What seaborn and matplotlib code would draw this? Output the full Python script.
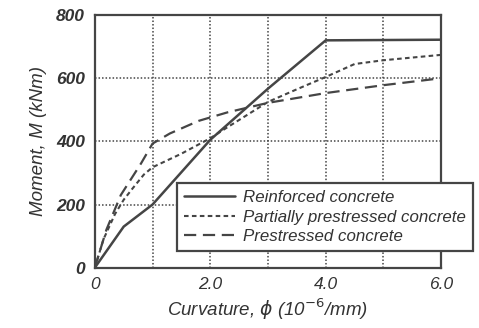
import matplotlib
matplotlib.use("Agg")
import matplotlib.pyplot as plt
import seaborn as sns
import pandas as pd
from matplotlib.lines import Line2D

# Data
curv_rc = [0, 0.5, 1.0, 2.0, 3.0, 4.0, 6.0]
moment_rc = [0, 130, 200, 405, 567, 720, 722]

curv_pp = [0, 0.15, 0.35, 0.5, 0.65, 0.85, 1.0, 1.5, 2.0, 2.3, 3.0, 3.5, 4.0, 4.5, 5.0, 6.0]
moment_pp = [0, 90, 170, 215, 250, 295, 318, 361, 410, 445, 525, 565, 604, 645, 657, 674]

curv_ps = [0, 0.2, 0.45, 0.8, 1.0, 1.3, 1.8, 2.3, 3.0, 4.0, 5.0, 6.0]
moment_ps = [0, 120, 230, 330, 393, 425, 465, 492, 522, 553, 578, 600]

labels = ["Reinforced concrete", "Partially prestressed concrete", "Prestressed concrete"]
x_ticks = [0, 1, 2, 3, 4, 5, 6]
x_ticklabels = ["0", "", "2.0", "", "4.0", "", "6.0"]
y_ticks = [0, 200, 400, 600, 800]
y_ticklabels = ["0", "200", "400", "600", "800"]

sns.set_theme(style="white")
plt.rcParams["font.family"] = ["Liberation Sans", "DejaVu Sans"]

df = pd.concat([
    pd.DataFrame({"curv": curv_rc, "moment": moment_rc, "type": labels[0]}),
    pd.DataFrame({"curv": curv_pp, "moment": moment_pp, "type": labels[1]}),
    pd.DataFrame({"curv": curv_ps, "moment": moment_ps, "type": labels[2]}),
])

col = "#454545"
fig = plt.figure(figsize=(4.79, 3.28), dpi=100)
ax = fig.add_axes([0.198, 0.184, 0.723, 0.770])

styles = {
    labels[0]: dict(linestyle="-", linewidth=1.8),
    labels[1]: dict(linestyle=(0, (2.2, 1.6)), linewidth=1.5),
    labels[2]: dict(linestyle=(0, (5.5, 3.0)), linewidth=1.6),
}
for lab in labels:
    sub = df[df["type"] == lab]
    sns.lineplot(data=sub, x="curv", y="moment", ax=ax, color=col,
                 estimator=None, sort=False, legend=False, **styles[lab])

ax.set_xlim(0, 6)
ax.set_ylim(0, 800)
ax.set_xticks(x_ticks)
ax.set_xticklabels(x_ticklabels, fontsize=12.5, style="italic", color="#333333")
ax.set_yticks(y_ticks)
ax.set_yticklabels(y_ticklabels, fontsize=12.5, style="italic", fontweight="bold", color="#333333")
ax.tick_params(axis="both", direction="in", length=4, width=1.0, color=col, pad=7)
ax.grid(True, linestyle=(0, (1.0, 1.3)), color="#444444", linewidth=1.1)
for s in ax.spines.values():
    s.set_color(col)
    s.set_linewidth(1.6)

ax.set_xlabel(r"Curvature, $\phi$ (10$^{-6}$/mm)", fontsize=13.5, style="italic", color="#333333", labelpad=3)
ax.set_ylabel("Moment, M (kNm)", fontsize=13.5, style="italic", color="#333333", labelpad=7)

handles = [Line2D([], [], color=col, **styles[lab]) for lab in labels]
leg = fig.legend(handles, labels, loc="upper left", bbox_to_anchor=(0.37, 0.442),
                 bbox_transform=fig.transFigure, borderaxespad=0, fancybox=False,
                 framealpha=1, edgecolor=col, handlelength=3.0, labelspacing=0.28,
                 prop={"style": "italic", "size": 12.2}, borderpad=0.4, handletextpad=0.5)
leg.get_frame().set_linewidth(1.6)
for t in leg.get_texts():
    t.set_color("#333333")

fig.savefig("out.png", dpi=100)
